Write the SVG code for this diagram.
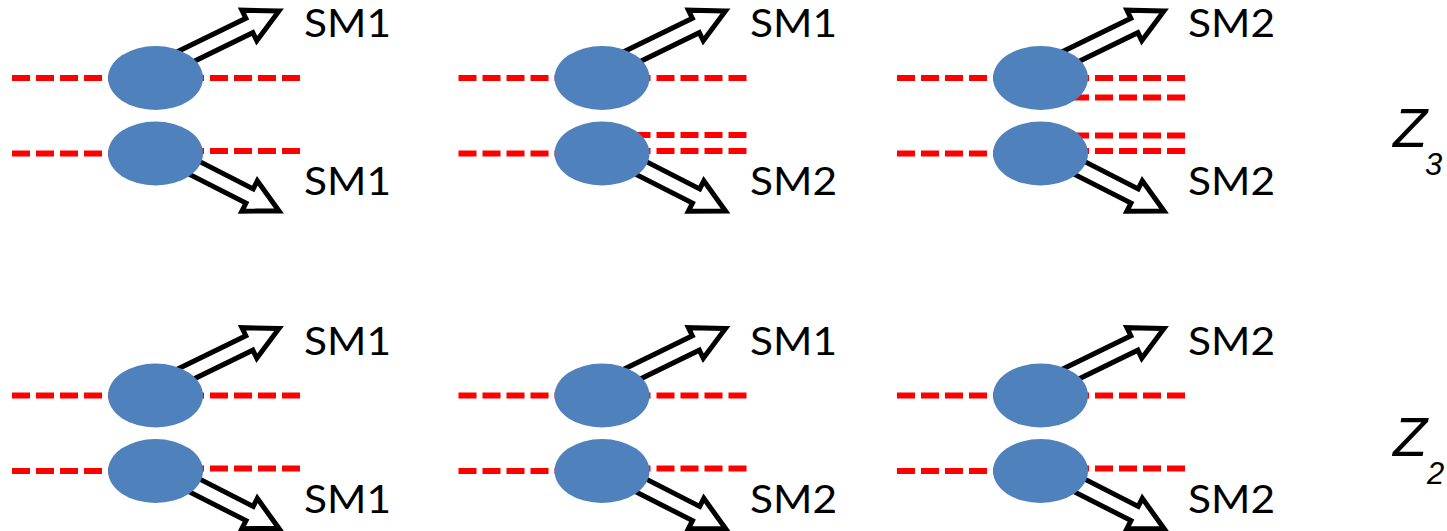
<svg xmlns="http://www.w3.org/2000/svg" xmlns:xlink="http://www.w3.org/1999/xlink" width="1447" height="531" viewBox="0 0 1447 531">
  <style>
    .leg { fill: none; stroke: #FF0000; stroke-width: 6; stroke-dasharray: 18 6; }
    .out { fill: #FFFFFF; stroke: #000000; stroke-width: 5; stroke-linejoin: miter; stroke-miterlimit: 10; }
    .blob { fill: #4F81BD; }
    .lbl { font-family: Lato, "Open Sans", "Liberation Sans", sans-serif; font-size: 39px; fill: #000000; }
    .z { font-family: "Liberation Sans", Arial, sans-serif; font-style: italic; fill: #000000; }
  </style>
  <defs>
    <!-- block arrow pointing along +x, tip at the origin -->
    <path id="blk" d="M0,0 L-33,-17 L-33,-8 L-120,-8 L-120,8 L-33,8 L-33,17 Z"/>
  </defs>
  <rect width="1447" height="531" fill="#FFFFFF"/>

  <!-- connectors: scalar legs (dashed) and outgoing block arrows -->
  <g id="connectors">
    <!-- row 1, column 1 -->
    <g transform="translate(0,0)">
      <line class="leg" x1="12" y1="78" x2="155" y2="78"/>
      <line class="leg" x1="300" y1="78" x2="155" y2="78"/>
      <line class="leg" x1="12" y1="153.5" x2="155" y2="153.5"/>
      <line class="leg" x1="300" y1="151" x2="155" y2="151"/>
      <use xlink:href="#blk" class="out" transform="translate(279,11) rotate(-26)"/>
      <use xlink:href="#blk" class="out" transform="translate(279,211) rotate(27)"/>
    </g>
    <!-- row 1, column 2 -->
    <g transform="translate(446.5,0)">
      <line class="leg" x1="12" y1="78" x2="155" y2="78"/>
      <line class="leg" x1="300" y1="78" x2="155" y2="78"/>
      <line class="leg" x1="12" y1="153.5" x2="155" y2="153.5"/>
      <line class="leg" x1="300" y1="135" x2="155" y2="135"/>
      <line class="leg" x1="300" y1="151" x2="155" y2="151"/>
      <use xlink:href="#blk" class="out" transform="translate(279,11) rotate(-26)"/>
      <use xlink:href="#blk" class="out" transform="translate(279,211) rotate(27)"/>
    </g>
    <!-- row 1, column 3 -->
    <g transform="translate(885,0)">
      <line class="leg" x1="12" y1="78" x2="155" y2="78"/>
      <line class="leg" x1="300" y1="78" x2="155" y2="78"/>
      <line class="leg" x1="300" y1="97.5" x2="155" y2="97.5"/>
      <line class="leg" x1="12" y1="153.5" x2="155" y2="153.5"/>
      <line class="leg" x1="300" y1="135.5" x2="155" y2="135.5"/>
      <line class="leg" x1="300" y1="151" x2="155" y2="151"/>
      <use xlink:href="#blk" class="out" transform="translate(279,11) rotate(-26)"/>
      <use xlink:href="#blk" class="out" transform="translate(279,211) rotate(27)"/>
    </g>
    <!-- row 2, column 1 -->
    <g transform="translate(0,317.5)">
      <line class="leg" x1="12" y1="78" x2="155" y2="78"/>
      <line class="leg" x1="300" y1="78" x2="155" y2="78"/>
      <line class="leg" x1="12" y1="153.5" x2="155" y2="153.5"/>
      <line class="leg" x1="300" y1="151" x2="155" y2="151"/>
      <use xlink:href="#blk" class="out" transform="translate(279,11) rotate(-26)"/>
      <use xlink:href="#blk" class="out" transform="translate(279,211) rotate(27)"/>
    </g>
    <!-- row 2, column 2 -->
    <g transform="translate(446.5,317.5)">
      <line class="leg" x1="12" y1="78" x2="155" y2="78"/>
      <line class="leg" x1="300" y1="78" x2="155" y2="78"/>
      <line class="leg" x1="12" y1="153.5" x2="155" y2="153.5"/>
      <line class="leg" x1="300" y1="151" x2="155" y2="151"/>
      <use xlink:href="#blk" class="out" transform="translate(279,11) rotate(-26)"/>
      <use xlink:href="#blk" class="out" transform="translate(279,211) rotate(27)"/>
    </g>
    <!-- row 2, column 3 -->
    <g transform="translate(885,317.5)">
      <line class="leg" x1="12" y1="78" x2="155" y2="78"/>
      <line class="leg" x1="300" y1="78" x2="155" y2="78"/>
      <line class="leg" x1="12" y1="153.5" x2="155" y2="153.5"/>
      <line class="leg" x1="300" y1="151" x2="155" y2="151"/>
      <use xlink:href="#blk" class="out" transform="translate(279,11) rotate(-26)"/>
      <use xlink:href="#blk" class="out" transform="translate(279,211) rotate(27)"/>
    </g>
  </g>

  <!-- vertex blobs -->
  <g id="v-r1c1a"><ellipse class="blob" cx="155.5" cy="78" rx="47.5" ry="32"/></g>
  <g id="v-r1c1b"><ellipse class="blob" cx="155.5" cy="153.5" rx="47.5" ry="32"/></g>
  <g id="v-r1c2a"><ellipse class="blob" cx="602" cy="78" rx="47.5" ry="32"/></g>
  <g id="v-r1c2b"><ellipse class="blob" cx="602" cy="153.5" rx="47.5" ry="32"/></g>
  <g id="v-r1c3a"><ellipse class="blob" cx="1040.5" cy="78" rx="47.5" ry="32"/></g>
  <g id="v-r1c3b"><ellipse class="blob" cx="1040.5" cy="153.5" rx="47.5" ry="32"/></g>
  <g id="v-r2c1a"><ellipse class="blob" cx="155.5" cy="395.5" rx="47.5" ry="32"/></g>
  <g id="v-r2c1b"><ellipse class="blob" cx="155.5" cy="471" rx="47.5" ry="32"/></g>
  <g id="v-r2c2a"><ellipse class="blob" cx="602" cy="395.5" rx="47.5" ry="32"/></g>
  <g id="v-r2c2b"><ellipse class="blob" cx="602" cy="471" rx="47.5" ry="32"/></g>
  <g id="v-r2c3a"><ellipse class="blob" cx="1040.5" cy="395.5" rx="47.5" ry="32"/></g>
  <g id="v-r2c3b"><ellipse class="blob" cx="1040.5" cy="471" rx="47.5" ry="32"/></g>

  <!-- sector labels at the arrow heads -->
  <g id="labels">
    <text class="lbl" x="304" y="37" textLength="87" lengthAdjust="spacingAndGlyphs">SM1</text>
    <text class="lbl" x="304" y="195" textLength="87" lengthAdjust="spacingAndGlyphs">SM1</text>
    <text class="lbl" x="750" y="37" textLength="87" lengthAdjust="spacingAndGlyphs">SM1</text>
    <text class="lbl" x="750" y="195" textLength="87" lengthAdjust="spacingAndGlyphs">SM2</text>
    <text class="lbl" x="1188" y="37" textLength="87" lengthAdjust="spacingAndGlyphs">SM2</text>
    <text class="lbl" x="1188" y="195" textLength="87" lengthAdjust="spacingAndGlyphs">SM2</text>
    <text class="lbl" x="304" y="355" textLength="87" lengthAdjust="spacingAndGlyphs">SM1</text>
    <text class="lbl" x="304" y="513" textLength="87" lengthAdjust="spacingAndGlyphs">SM1</text>
    <text class="lbl" x="750" y="355" textLength="87" lengthAdjust="spacingAndGlyphs">SM1</text>
    <text class="lbl" x="750" y="513" textLength="87" lengthAdjust="spacingAndGlyphs">SM2</text>
    <text class="lbl" x="1188" y="355" textLength="87" lengthAdjust="spacingAndGlyphs">SM2</text>
    <text class="lbl" x="1188" y="513" textLength="87" lengthAdjust="spacingAndGlyphs">SM2</text>
  </g>

  <!-- symmetry labels for each row -->
  <g id="z3">
    <text class="z" x="1393" y="147" font-size="56">Z</text>
    <text class="z" x="1425" y="175" font-size="31">3</text>
  </g>
  <g id="z2">
    <text class="z" x="1393" y="456" font-size="56">Z</text>
    <text class="z" x="1427" y="484" font-size="31" font-style="normal">2</text>
  </g>
</svg>
